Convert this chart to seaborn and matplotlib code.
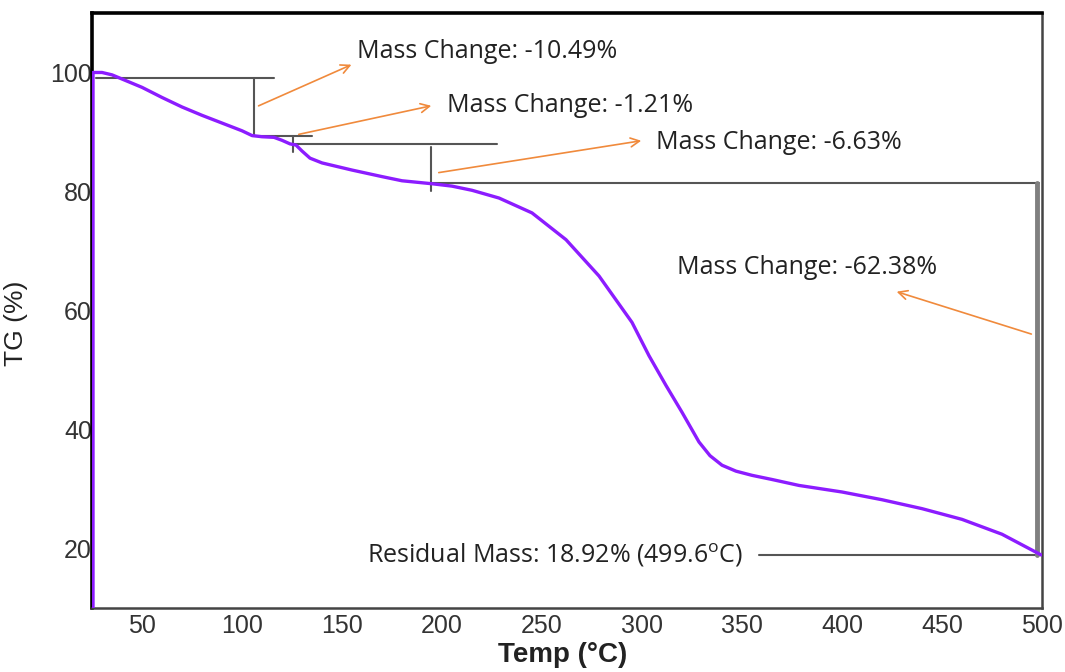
import numpy as np
import pandas as pd
import matplotlib
matplotlib.use("Agg")
import matplotlib.pyplot as plt
import seaborn as sns

# TGA curve
temp = [25.5, 25.5, 30, 35, 40, 50, 60, 70, 80, 90, 100, 105, 110, 116, 120, 124,
        127, 130, 134, 140, 155, 170, 180, 195, 205, 215, 228.5, 245, 262, 278.5,
        295, 303.5, 312, 320, 328.5, 334, 340, 347, 355, 365, 378.5, 400, 420,
        440, 460, 480, 499.6]
tg = [10, 100, 100, 99.6, 98.9, 97.5, 95.8, 94.2, 92.8, 91.5, 90.2, 89.4, 89.2,
      89.1, 88.6, 88.0, 87.8, 86.8, 85.6, 84.8, 83.6, 82.5, 81.8, 81.3, 80.9,
      80.2, 78.9, 76.4, 71.9, 65.8, 58.0, 52.4, 47.4, 42.9, 37.9, 35.6, 34.0,
      33.0, 32.3, 31.6, 30.6, 29.5, 28.2, 26.7, 24.9, 22.4, 18.92]

x_ticks = [50, 100, 150, 200, 250, 300, 350, 400, 450, 500]
y_ticks = [20, 40, 60, 80, 100]

# step markers: (x_start, x_end, level)
step_h = [(27, 116, 99.0), (105, 135, 89.35), (125, 227.5, 87.9),
          (194.5, 498.5, 81.4), (358.5, 499.6, 18.92)]
# vertical bars: (x, top, bottom)
step_v = [(106, 99.0, 89.35), (125.5, 89.35, 86.7), (194.5, 87.5, 80.0)]
big_v = (497.5, 81.4, 18.92)

labels = ["Mass Change: -10.49%", "Mass Change: -1.21%", "Mass Change: -6.63%",
          "Mass Change: -62.38%"]
label_pos = [(157.5, 103.5), (202.5, 94.5), (307, 88.3), (317.5, 67.2)]
arrow_from = [(107, 94.2), (127, 89.5), (197, 83.1), (496, 55.9)]
arrow_to = [(156, 101.5), (196, 94.5), (301, 88.6), (426, 63.3)]
residual_label = r"Residual Mass: 18.92% (499.6$^\mathrm{o}$C)"
residual_pos = (162.5, 18.92)

df = pd.DataFrame({"Temp": temp, "TG": tg})

sns.set_style("white")
plt.rcParams['font.family'] = ['Liberation Sans', 'DejaVu Sans']
plt.rcParams['mathtext.fontset'] = 'custom'
plt.rcParams['mathtext.rm'] = 'Open Sans'

fig = plt.figure(figsize=(10.65, 6.72), dpi=100)
ax = fig.add_axes([0.0864, 0.0952, 0.892, 0.8855])

# step lines
for x0, x1, y in step_h:
    ax.plot([x0, x1], [y, y], color="#555555", lw=1.5, zorder=2)
for x, y0, y1 in step_v:
    ax.plot([x, x], [y0, y1], color="#555555", lw=1.5, zorder=2)
ax.plot([big_v[0], big_v[0]], [big_v[1], big_v[2]], color="#808080", lw=3.5,
        zorder=2)

sns.lineplot(data=df, x="Temp", y="TG", sort=False, estimator=None,
             color="#8c1cff", lw=2.4, ax=ax, zorder=3)

anno_font = ['Open Sans', 'DejaVu Sans']
for txt, (tx, ty), p0, p1 in zip(labels, label_pos, arrow_from, arrow_to):
    ax.annotate("", xy=p1, xytext=p0,
                arrowprops=dict(arrowstyle="->", color="#f08a3c", lw=1.2,
                                mutation_scale=16))
    ax.text(tx, ty, txt, ha="left", va="center", fontsize=18,
            family=anno_font, color="#222222")
ax.text(residual_pos[0], residual_pos[1], residual_label, ha="left",
        va="center", fontsize=18, family=anno_font, color="#222222")

ax.set_xlim(25, 500)
ax.set_ylim(10, 110)
ax.set_xticks(x_ticks)
ax.set_yticks(y_ticks)
ax.tick_params(axis="both", length=0, labelsize=18, labelcolor="#333333")
ax.tick_params(axis="y", pad=0)
ax.tick_params(axis="x", pad=4)
ax.set_xlabel("Temp (°C)", fontsize=20, fontweight="bold", color="#222222")
ax.set_ylabel("TG (%)", fontsize=19, color="#222222")
ax.yaxis.set_label_coords(-0.067, 0.479)
ax.xaxis.set_label_coords(0.495, -0.057)

for side in ["left", "top"]:
    ax.spines[side].set_color("black")
    ax.spines[side].set_linewidth(2.6)
for side in ["right", "bottom"]:
    ax.spines[side].set_color("#444444")
    ax.spines[side].set_linewidth(1.8)

fig.savefig("out.png", dpi=100)
